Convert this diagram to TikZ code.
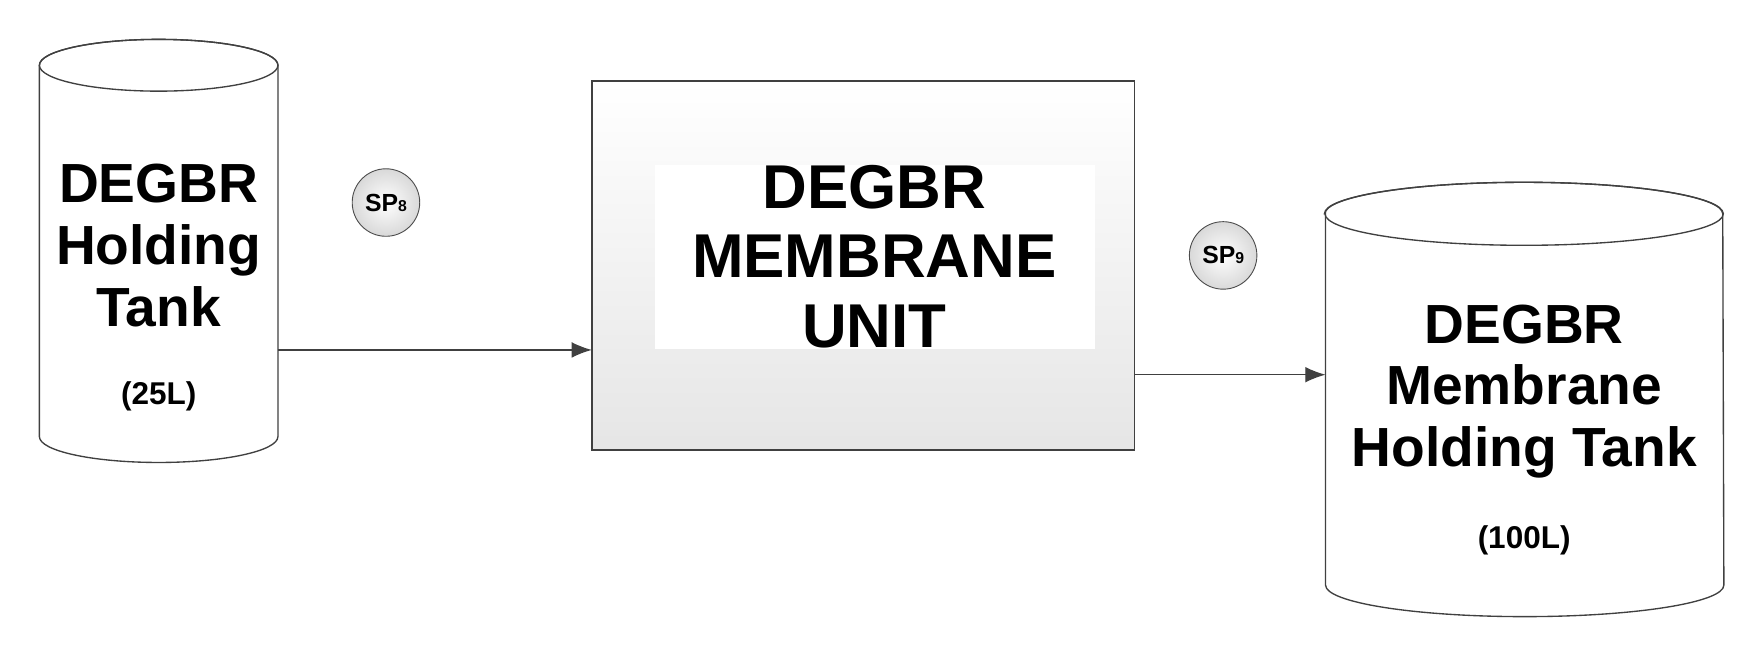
\documentclass[tikz,border=0pt]{standalone}
\usepackage{fontspec}
\setmainfont{Liberation Sans}
\usetikzlibrary{arrows.meta}
\begin{document}
\begin{tikzpicture}[x=0.5pt,y=-0.5pt,
  lbl/.style={font=\bfseries\fontsize{24.5}{27.5}\selectfont, align=center},
  big/.style={font=\bfseries\fontsize{27.5}{31}\selectfont, align=center},
  sm/.style={font=\bfseries\fontsize{14}{16}\selectfont},
  spc/.style={circle, draw=black!70, inner sep=0pt, minimum size=30pt, inner color=white, outer color=black!15, font=\bfseries\fontsize{11}{13}\selectfont},
  line/.style={draw=black!75, line width=0.6pt},
  arr/.style={line, -{Latex[length=9pt,width=7pt]}}]
\useasboundingbox (0,0) rectangle (1565,577);
% left tank
\filldraw[line, fill=white] (35,58) -- (35,388) arc[start angle=180,end angle=360,x radius=53pt,y radius=11.5pt] -- (247,58) arc[start angle=0,end angle=180,x radius=53pt,y radius=11.5pt] -- cycle;
\draw[line] (141,58) ellipse[x radius=53pt,y radius=11.5pt];
\node[lbl] (t1) at (141,218) {DEGBR\\Holding\\Tank};
\node[sm] (t1v) at (141,352) {(25L)};
\coordinate (t1out) at (247,311);
% membrane unit
\shade[top color=white,bottom color=black!10] (526,72) rectangle (1008,400);
\draw[line] (526,72) rectangle (1008,400);
\fill[white] (582,147) rectangle (973,310);
\node[big] (mu) at (777,228) {DEGBR\\MEMBRANE\\UNIT};
\coordinate (muin) at (526,311);
\coordinate (muout) at (1008,333);
% right tank
\filldraw[line, fill=white] (1178,190) -- (1178,520) arc[start angle=180,end angle=360,x radius=88.5pt,y radius=14pt] -- (1531,190) arc[start angle=0,end angle=180,x radius=88.5pt,y radius=14pt] -- cycle;
\draw[line] (1354.5,190) ellipse[x radius=88.5pt,y radius=14pt];
\node[lbl] (t2) at (1354.5,348) {DEGBR\\Membrane\\Holding Tank};
\node[sm] (t2v) at (1354.5,480) {(100L)};
\coordinate (t2in) at (1178,333);
% sample points
\node[spc] (sp8) at (343,180) {SP{\fontsize{7}{8}\selectfont 8}};
\node[spc] (sp9) at (1087,227) {SP{\fontsize{7}{8}\selectfont 9}};
% arrows
\draw[arr] (t1out) -- (muin);
\draw[arr] (muout) -- (t2in);
\end{tikzpicture}
\end{document}
